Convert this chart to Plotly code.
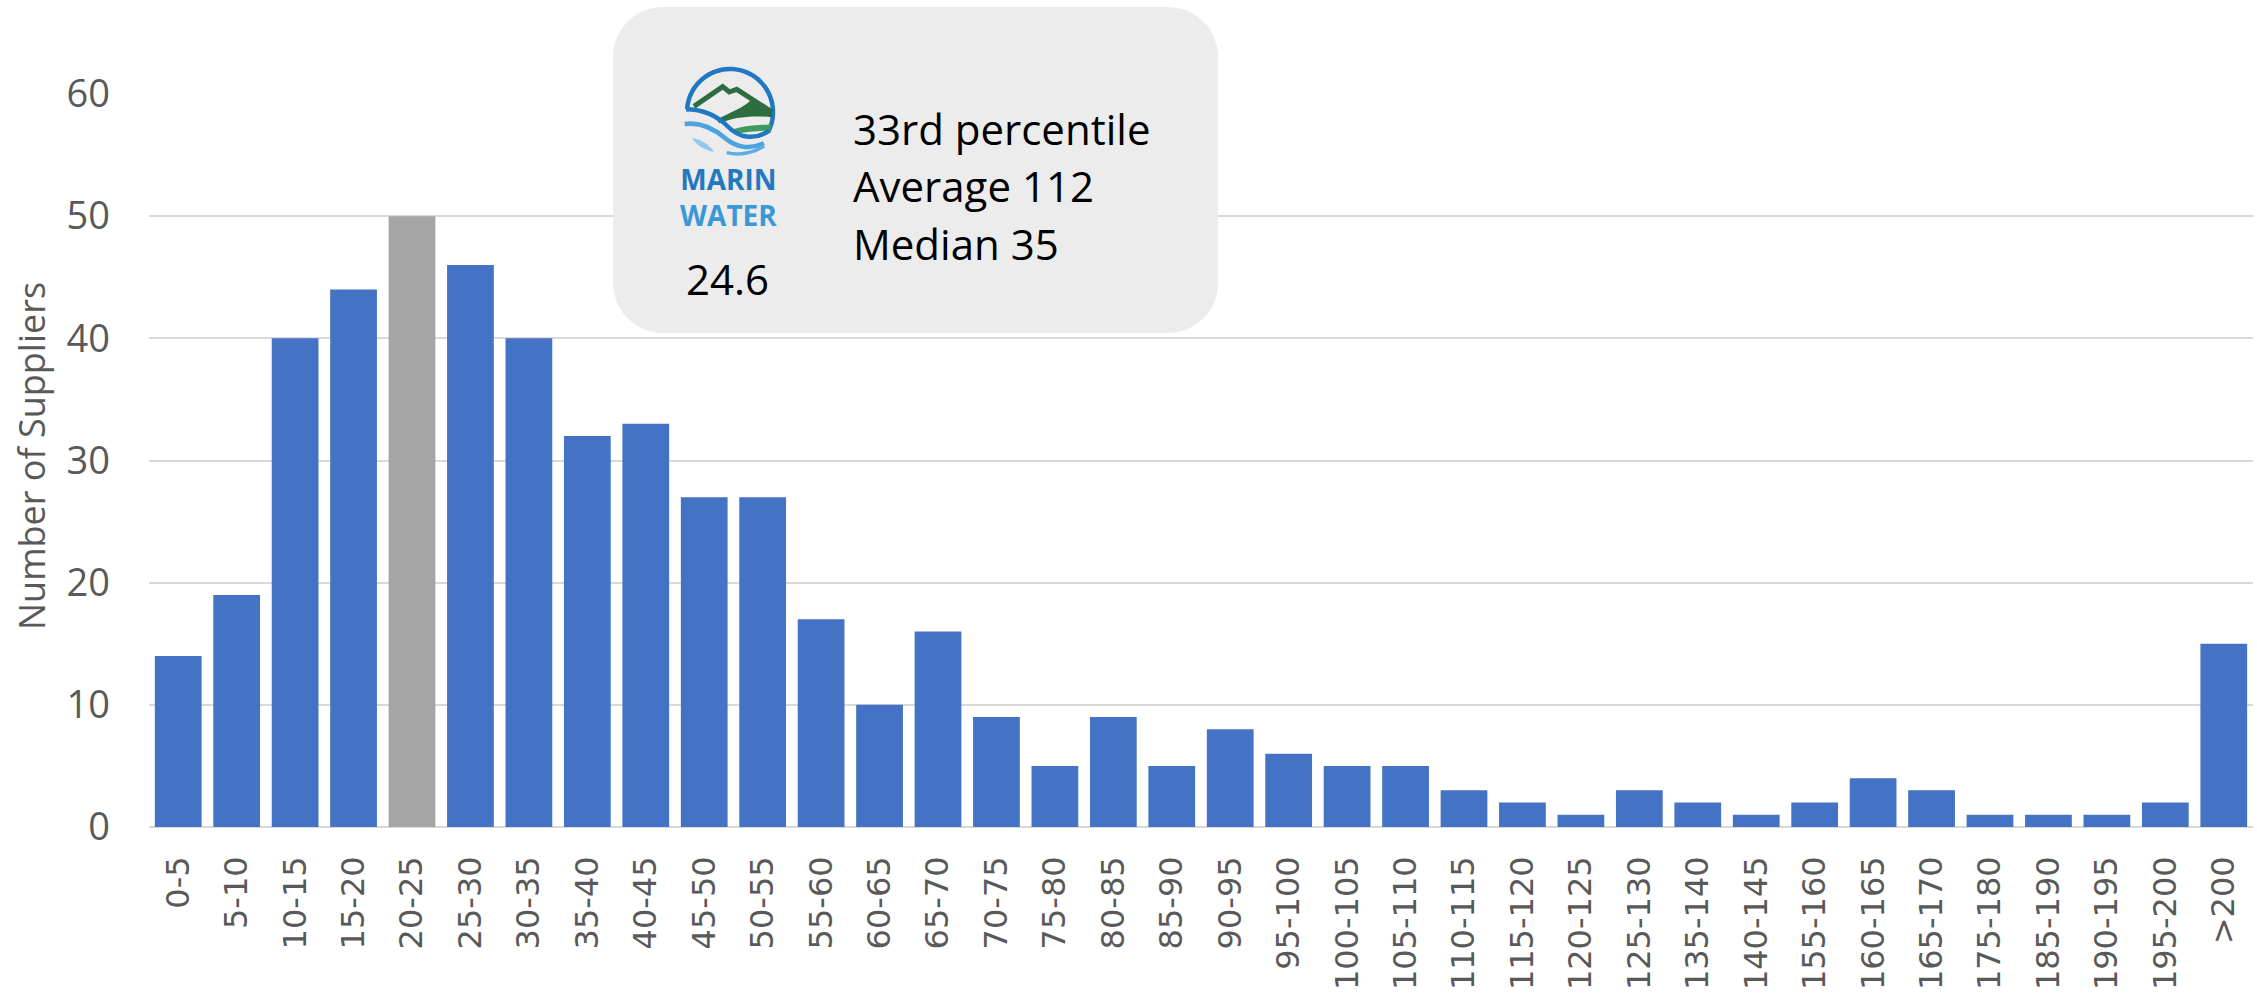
import re
import math
import plotly.graph_objects as go

# ---- data ----
categories = [
    "0-5", "5-10", "10-15", "15-20", "20-25", "25-30", "30-35", "35-40", "40-45",
    "45-50", "50-55", "55-60", "60-65", "65-70", "70-75", "75-80", "80-85", "85-90",
    "90-95", "95-100", "100-105", "105-110", "110-115", "115-120", "120-125",
    "125-130", "135-140", "140-145", "155-160", "160-165", "165-170", "175-180",
    "185-190", "190-195", "195-200", ">200",
]
suppliers = [
    14, 19, 40, 44, 50, 46, 40, 32, 33, 27, 27, 17, 10, 16, 9, 5, 9, 5,
    8, 6, 5, 5, 3, 2, 1, 3, 2, 1, 2, 4, 3, 1, 1, 1, 2, 15,
]
highlight_bin = "20-25"
y_ticks = [0, 10, 20, 30, 40, 50, 60]
stats_lines = ["33rd percentile", "Average 112", "Median 35"]
marin_value = "24.6"

BLUE = "#4472C4"
GREY = "#A5A5A5"
TEXT_GREY = "#595959"
GRID = "#D9D9D9"

# ---- canvas geometry (pixels) ----
W, H = 2257, 999
L, R, T, B = 149, 4, 94, 172
PW = W - L - R
PH = H - T - B


def px(x):
    return (x - L) / PW


def py(y):
    return (H - B - y) / PH


PAIR = r"(-?\d+\.?\d*),(-?\d+\.?\d*)"


def to_paper(d):
    """Convert an SVG path written in canvas pixels to paper coordinates."""
    def rep(m):
        return f"{px(float(m.group(1))):.5f},{py(float(m.group(2))):.5f}"
    return re.sub(PAIR, rep, d)


# logo drawn on its own design grid: canvas = origin + unit/3
LOGO_X0, LOGO_Y0, LOGO_S = 680, 62, 1 / 3


def logo_path(d):
    def rep(m):
        x = LOGO_X0 + float(m.group(1)) * LOGO_S
        y = LOGO_Y0 + float(m.group(2)) * LOGO_S
        return f"{x:.2f},{y:.2f}"
    return to_paper(re.sub(PAIR, rep, d))


def rounded_rect(x0, y0, x1, y1, r, n=12):
    pts = []
    corners = [
        (x1 - r, y0 + r, -90, 0),
        (x1 - r, y1 - r, 0, 90),
        (x0 + r, y1 - r, 90, 180),
        (x0 + r, y0 + r, 180, 270),
    ]
    for cx, cy, a0, a1 in corners:
        for i in range(n + 1):
            a = math.radians(a0 + (a1 - a0) * i / n)
            pts.append((cx + r * math.cos(a), cy + r * math.sin(a)))
    return "M " + " L ".join(f"{x:.2f},{y:.2f}" for x, y in pts) + " Z"


def arc_path(cx, cy, r, a_start, a_end, n=48):
    pts = []
    for i in range(n + 1):
        a = math.radians(a_start + (a_end - a_start) * i / n)
        pts.append((cx + r * math.cos(a), cy - r * math.sin(a)))
    return "M " + " L ".join(f"{x:.2f},{y:.2f}" for x, y in pts)


bar_colors = [GREY if c == highlight_bin else BLUE for c in categories]

fig = go.Figure(
    go.Bar(
        x=categories,
        y=suppliers,
        marker=dict(color=bar_colors, line=dict(width=0)),
        hoverinfo="x+y",
    )
)

shapes = []


def add_path(d, fill=None, stroke=None, width=0):
    s = dict(type="path", xref="paper", yref="paper", layer="above", path=d)
    if fill:
        s["fillcolor"] = fill
    s["line"] = dict(color=stroke or "rgba(0,0,0,0)", width=width)
    shapes.append(s)


# info panel
add_path(to_paper(rounded_rect(613, 7, 1218, 333, 50)), fill="#ECECEC")

# ---- logo ----
# outer ring over the top
add_path(logo_path(arc_path(150, 150, 129, 176, -28)), stroke="#1F78C1", width=4.5)
# mountain ridge
add_path(logo_path("M 42,133 L 128,74 L 148,90 L 170,82 L 276,150"),
         stroke="#2C6E40", width=5)
# green slope filling the right of the ridge
add_path(logo_path("M 170,82 L 276,150 L 278,166 C 220,160 165,164 118,184 "
                   "L 110,174 C 150,150 190,140 215,112 Z"),
         fill="#2C6E40")
# light green field band
add_path(logo_path("M 150,205 C 185,192 230,188 274,188 L 270,206 "
                   "C 235,206 200,210 168,216 Z"),
         fill="#3F9A5C")
# dark blue wave from the ring's left side
add_path(logo_path("M 18,142 C 70,142 110,160 145,195 C 175,225 220,238 268,206"),
         stroke="#1F78C1", width=4.5)
# light blue lower wave
add_path(logo_path("M 14,186 C 60,180 102,200 135,228 C 162,252 205,266 252,244"),
         stroke="#4CA3DE", width=4.5)
# small light wave
add_path(logo_path("M 36,228 C 64,232 88,248 102,270 C 76,264 50,252 36,228 Z"),
         fill="#8FC9EE")
# bottom of ring
add_path(logo_path("M 140,272 C 180,282 222,272 252,252"),
         stroke="#5AAEE3", width=3.5)

annotations = []
# y-axis title
annotations.append(dict(
    text="Number of Suppliers", xref="paper", yref="paper",
    x=px(32), y=py(456), xanchor="center", yanchor="middle", textangle=-90,
    showarrow=False, font=dict(family="Open Sans", size=36, color=TEXT_GREY),
))
# logo wordmark
annotations.append(dict(
    text=("<b><span style='color:#2479BE'>MARIN</span><br>"
          "<span style='color:#3B98D5'>WATER</span></b>"),
    xref="paper", yref="paper",
    x=px(728), y=py(197), xanchor="center", yanchor="middle", showarrow=False,
    align="center",
    font=dict(family="Open Sans", size=28, color="#2479BE"),
))
annotations.append(dict(
    text=marin_value, xref="paper", yref="paper",
    x=px(727), y=py(278), xanchor="center", yanchor="middle", showarrow=False,
    font=dict(family="Open Sans", size=42, color="#000000"),
))
for i, line in enumerate(stats_lines):
    annotations.append(dict(
        text=line, xref="paper", yref="paper",
        x=px(851), y=py(128 + 57.5 * i), xanchor="left", yanchor="middle",
        showarrow=False, font=dict(family="Open Sans", size=42, color="#000000"),
    ))

fig.update_layout(
    width=W, height=H,
    margin=dict(l=L, r=R, t=T, b=B, pad=0),
    paper_bgcolor="white", plot_bgcolor="white",
    bargap=0.2,
    showlegend=False,
    shapes=shapes,
    annotations=annotations,
    xaxis=dict(
        type="category", tickangle=-90, showgrid=False, zeroline=False,
        showline=False, ticks="", ticklabelstandoff=22,
        tickfont=dict(family="DejaVu Sans", size=32, color=TEXT_GREY),
    ),
    yaxis=dict(
        range=[0, 60], tickvals=y_ticks, showgrid=True, gridcolor=GRID,
        gridwidth=1.5, zeroline=True, zerolinecolor=GRID, zerolinewidth=2,
        showline=False, ticks="", ticklabelstandoff=38,
        tickfont=dict(family="Open Sans", size=38, color=TEXT_GREY),
    ),
)

fig.write_html("out.html")
